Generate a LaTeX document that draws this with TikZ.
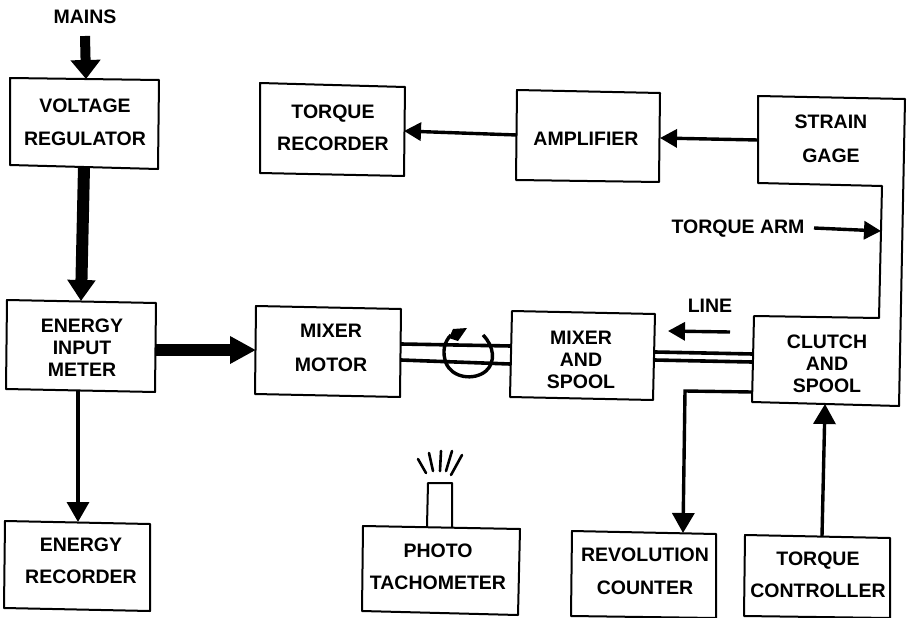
\documentclass[tikz,border=0pt]{standalone}
\usepackage{fontspec}
\setmainfont{Liberation Sans}
\usetikzlibrary{arrows.meta}
\tikzset{
  blockbox/.style={draw=black,line width=2pt,line join=round},
  lbl/.style={font=\fontsize{19.5}{22}\selectfont\bfseries,align=center,inner sep=0pt,text=black},
  conn/.style={draw=black,line width=3.4pt},
  shaft/.style={draw=black,line width=3.6pt},
  headsmall/.style={-{Triangle[length=17pt,width=18pt]}},
  headmid/.style={-{Triangle[length=20pt,width=22pt]}},
}
\begin{document}
\begin{tikzpicture}[x=1pt,y=-1pt]
\useasboundingbox (0,0) rectangle (910,618);
% blocks
\draw[blockbox] (10,78) -- (159,80) -- (158,169) -- (10,165) -- cycle;
\coordinate (vrT) at (86,79); \coordinate (vrB) at (84,167);
\draw[blockbox] (260,83) -- (405,87) -- (404,176) -- (260,173) -- cycle;
\coordinate (trR) at (404,131);
\draw[blockbox] (517,90) -- (660,93) -- (659,182) -- (516,180) -- cycle;
\coordinate (amL) at (517,135); \coordinate (amR) at (660,138);
\draw[blockbox] (7,300) -- (156,303) -- (155,392) -- (6,389) -- cycle;
\coordinate (eiT) at (81,301); \coordinate (eiR) at (156,350); \coordinate (eiB) at (78,390);
\draw[blockbox] (256,306) -- (401,309) -- (400,397) -- (255,394) -- cycle;
\coordinate (mmL) at (256,350);
\draw[blockbox] (512,311) -- (655,314) -- (653,400) -- (510,397) -- cycle;
\draw[blockbox] (5,521) -- (150,524) -- (150,611) -- (4,608) -- cycle;
\coordinate (erT) at (78,522);
\draw[blockbox] (363,526) -- (520,529) -- (518,615) -- (362,611) -- cycle;
\draw[blockbox] (572,531) -- (716,534) -- (716,618) -- (571,616) -- cycle;
\coordinate (rcT) at (683,533);
\draw[blockbox] (745,535) -- (890,538) -- (890,618) -- (744,616) -- cycle;
\coordinate (tcT) at (822,536);
% strain gage / torque arm / clutch outline
\draw[blockbox] (758,96) -- (905,99) -- (899,406) -- (752,402) -- (754,316) -- (879,318) -- (882,186) -- (758,183) -- cycle;
\coordinate (sgL) at (758,140); \coordinate (csB) at (825,404); \coordinate (csL) at (752,392);
\coordinate (armR) at (881,231);
% labels
\node[lbl] (mains) at (85,17) {MAINS};
\node[lbl] (vr) at (85,122) {VOLTAGE\\[11pt]REGULATOR};
\node[lbl] (tr) at (333,128) {TORQUE\\[10pt]RECORDER};
\node[lbl] (am) at (586,139) {AMPLIFIER};
\node[lbl] (sg) at (831,139) {STRAIN\\[12pt]GAGE};
\node[lbl] (ta) at (738,229) {TORQUE ARM};
\node[lbl] (ln) at (710,306) {LINE};
\node[lbl] (ei) at (82,348) {ENERGY\\INPUT\\METER};
\node[lbl] (mm) at (331,348) {MIXER\\[12pt]MOTOR};
\node[lbl] (ms) at (581,360) {MIXER\\AND\\SPOOL};
\node[lbl] (cs) at (827,364) {CLUTCH\\AND\\SPOOL};
\node[lbl] (er) at (81,561) {ENERGY\\[10pt]RECORDER};
\node[lbl] (pt) at (438,567) {PHOTO\\[10pt]TACHOMETER};
\node[lbl] (rc) at (645,571) {REVOLUTION\\[11pt]COUNTER};
\node[lbl] (tc) at (818,575) {TORQUE\\[10pt]CONTROLLER};
% thick arrows
\coordinate (mainsB) at (85,36);
\draw[line width=10pt,draw=black,-{Triangle[length=19pt,width=29pt]}] (mainsB) -- (vrT);
\draw[line width=12pt,draw=black,-{Triangle[length=21pt,width=27pt]}] (vrB) -- (eiT);
\draw[line width=12pt,draw=black,-{Triangle[length=26pt,width=26pt]}] (eiR) -- (mmL);
% thin arrows
\draw[conn,headmid] (eiB) -- (erT);
\draw[conn,headsmall] (amL) -- (trR);
\draw[conn,headsmall] (sgL) -- (amR);
\coordinate (armS) at (814,228);
\draw[conn,headsmall] (armS) -- (armR);
\coordinate (lineE) at (730,332); \coordinate (lineH) at (668,331);
\draw[conn,headsmall] (lineE) -- (lineH);
\draw[conn,headmid] (csL) -- (685,391) -- (683,533);
\draw[conn,headmid] (tcT) -- (csB);
% shafts
\draw[shaft] (401,344) -- (511,346);
\draw[shaft] (401,360) -- (510,364);
\draw[shaft] (655,352) -- (753,354);
\draw[shaft] (654,360) -- (752,362);
% rotation arrow
\draw[line width=3.4pt] (483,335) .. controls (494,346) and (496,362) .. (486,371) .. controls (474,381) and (452,378) .. (446,363) .. controls (442,352) and (444,342) .. (451,335);
\fill (449,338) -- (453,329) -- (467,328) -- (458,341) -- cycle;
% photo tachometer
\draw[blockbox] (427,526) -- (428,483) -- (452,483) -- (452,527);
\draw[line width=2.6pt,line cap=round] (418,459) -- (426,473);
\draw[line width=2.6pt,line cap=round] (429,453) -- (433,471);
\draw[line width=2.6pt,line cap=round] (441,451) -- (440,471);
\draw[line width=2.6pt,line cap=round] (452,451) -- (446,471);
\draw[line width=2.6pt,line cap=round] (462,455) -- (451,475);
\end{tikzpicture}
\end{document}
